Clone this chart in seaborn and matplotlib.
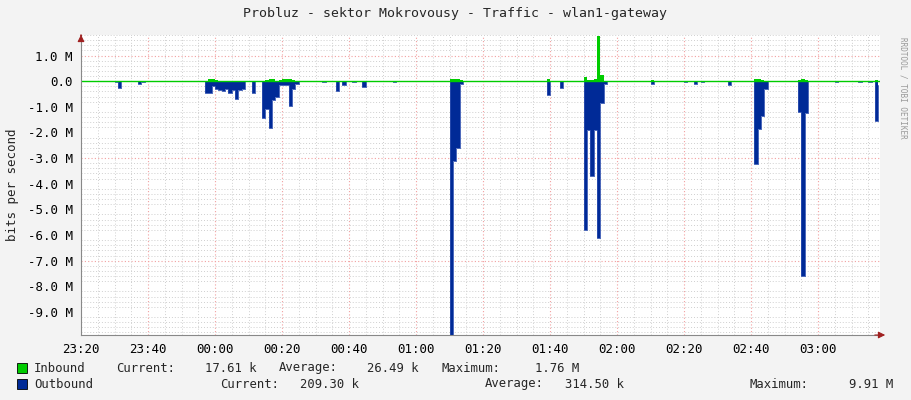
import numpy as np
import pandas as pd
import matplotlib.pyplot as plt
import seaborn as sns
from matplotlib.ticker import MultipleLocator

# minutes after 23:20, values in Mbit/s
out_min = [10, 11, 17, 18, 37, 38, 39, 40, 41, 42, 43, 44, 45, 46, 47, 48, 51, 54, 55, 56, 57, 58, 59,
           60, 61, 62, 63, 64, 72, 76, 78, 81, 84, 93, 110, 111, 112, 113, 139, 143, 150, 151, 152,
           153, 154, 155, 156, 170, 180, 183, 185, 193, 201, 202, 203, 204, 214, 215, 216, 225, 232,
           235, 237, 238]
out_val = [-0.05, -0.27, -0.1, -0.05, -0.47, -0.45, -0.2, -0.3, -0.35, -0.4, -0.3, -0.45, -0.35, -0.7,
           -0.35, -0.3, -0.45, -1.45, -1.1, -1.83, -0.75, -0.6, -0.15, -0.15, -0.15, -0.95, -0.3, -0.1,
           -0.05, -0.4, -0.15, -0.05, -0.23, -0.05, -9.9, -3.1, -2.6, -0.1, -0.55, -0.25, -5.8, -1.9,
           -3.7, -1.9, -6.1, -0.85, -0.1, -0.12, -0.05, -0.1, -0.05, -0.15, -3.25, -1.85, -1.35,
           -0.3, -1.2, -7.6, -1.25, -0.05, -0.05, -0.05, -1.55, -0.15]
in_min = [38, 39, 40, 55, 56, 57, 59, 60, 61, 62, 63, 110, 111, 112, 113, 139, 150, 151, 152,
          153, 154, 155, 170, 201, 202, 203, 214, 215, 216, 237]
in_val = [0.08, 0.1, 0.05, 0.05, 0.07, 0.08, 0.05, 0.08, 0.1, 0.07, 0.05, 0.07, 0.08, 0.08, 0.05,
          0.1, 0.15, 0.05, 0.05, 0.1, 1.76, 0.25, 0.05, 0.07, 0.07, 0.05, 0.05, 0.08, 0.05, 0.05]
tick_labels = ['23:20', '23:40', '00:00', '00:20', '00:40', '01:00', '01:20',
               '01:40', '02:00', '02:20', '02:40', '03:00']

minutes = np.arange(0, 239)
df = pd.DataFrame({'min': minutes, 'out': 0.0, 'inb': 0.0})
df.loc[out_min, 'out'] = out_val
df.loc[in_min, 'inb'] = in_val

sns.set_style('white')
plt.rcParams['font.family'] = ['DejaVu Sans Mono']
mono = 'DejaVu Sans Mono'

fig = plt.figure(figsize=(9.11, 4.0), dpi=100, facecolor='#F3F3F3')
ax = fig.add_axes([81 / 911, 65 / 400, 799 / 911, 300 / 400])
ax.set_facecolor('white')

green, blue = '#00CC00', '#002A97'
ax.fill_between(df['min'], df['out'], 0, step='post', color=blue, lw=0)
ax.fill_between(df['min'], df['inb'], 0, step='post', color=green, lw=0)
sns.lineplot(data=df, x='min', y='out', drawstyle='steps-post', color='#2D4FB0', lw=0.6, ax=ax)
ax.axhline(0, color=green, lw=1)

ax.set_xlim(0, 238.5)
ax.set_ylim(-9.9, 1.8)
ax.set_xticks(np.arange(0, 221, 20))
ax.set_xticklabels(tick_labels)
ax.set_yticks(np.arange(-9, 2, 1))
ax.set_yticklabels(['%.1f M' % v if v != 0 else '0.0' for v in np.arange(-9, 2, 1)])
ax.tick_params(labelsize=9, length=0, pad=6, colors='black')
ax.xaxis.set_minor_locator(MultipleLocator(5))
ax.yaxis.set_minor_locator(MultipleLocator(0.2))
ax.grid(which='minor', color='#CFCFCF', ls=(0, (1, 2)), lw=0.7)
for v in [-7, -3, 1]:
    ax.axhline(v, color='#F2A0A0', ls=(0, (1, 2)), lw=0.8, zorder=0.5)
for v in range(20, 221, 20):
    ax.axvline(v, color='#F2A0A0', ls=(0, (1, 2)), lw=0.8, zorder=0.5)
ax.set_axisbelow(True)
for s in ['top', 'right']:
    ax.spines[s].set_visible(False)
ax.spines['left'].set_color('#888888')
ax.spines['bottom'].set_color('#888888')
ax.annotate('', xy=(1.01, 0), xycoords='axes fraction', xytext=(0.99, 0),
            arrowprops=dict(arrowstyle='-|>', color='#A02020', lw=0.8))
ax.annotate('', xy=(0, 1.01), xycoords='axes fraction', xytext=(0, 0.99),
            arrowprops=dict(arrowstyle='-|>', color='#A02020', lw=0.8))
ax.set_xlabel('')
ax.set_ylabel('bits per second', fontsize=9, labelpad=6)

fig.text(455 / 911, 1 - 14 / 400, 'Probluz - sektor Mokrovousy - Traffic - wlan1-gateway',
         ha='center', va='center', fontsize=9.5, family=mono)
fig.text(903 / 911, 0.78, 'RRDTOOL / TOBI OETIKER', rotation=270, ha='center', va='center',
         fontsize=5.5, color='#999999', family=mono)

rows = [(368, green, [('Inbound', 34), ('Current:', 116), ('17.61 k', 205), ('Average:', 279),
                      ('26.49 k', 367), ('Maximum:', 441), ('1.76 M', 535)]),
        (384, blue, [('Outbound', 34), ('Current:', 220), ('209.30 k', 300), ('Average:', 485),
                     ('314.50 k', 565), ('Maximum:', 750), ('9.91 M', 849)])]
for y, c, items in rows:
    fig.patches.append(plt.Rectangle((17 / 911, 1 - (y + 5) / 400), 10 / 911, 10 / 400,
                                     transform=fig.transFigure, facecolor=c, edgecolor='black', lw=0.6))
    for txt, x in items:
        fig.text(x / 911, 1 - y / 400, txt, ha='left', va='center', fontsize=8.8, family=mono)

fig.savefig('out.png', dpi=100, facecolor=fig.get_facecolor())
